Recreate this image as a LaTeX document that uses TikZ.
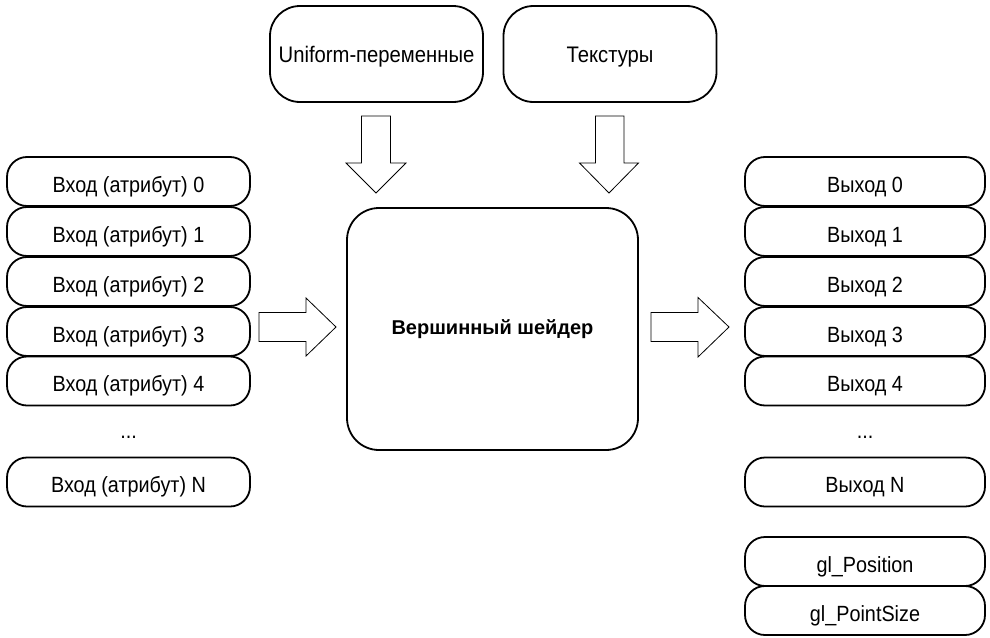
\documentclass[tikz,border=0pt]{standalone}
\usepackage{fontspec}
\setmainfont{Liberation Sans}
\newfontfamily\condfont[FakeStretch=0.9]{Liberation Sans}
\begin{document}
\begin{tikzpicture}[x=1pt,y=-1pt,
  box/.style={draw, line width=1.8pt, rounded corners=20pt, minimum width=243pt, minimum height=49pt, inner sep=0pt, text height=21pt, text depth=0pt, font=\condfont\fontsize{22}{24}\selectfont},
  rbox/.style={box, minimum width=240pt},
  topbox/.style={draw, line width=1.8pt, rounded corners=30pt, minimum width=213pt, minimum height=96pt, inner sep=0pt, text height=16pt, text depth=0pt, font=\condfont\fontsize{22.5}{24}\selectfont},
  shader/.style={draw, line width=1.8pt, rounded corners=32pt, minimum width=291pt, minimum height=242pt, inner sep=0pt, text height=10.4pt, text depth=0pt, font=\bfseries\fontsize{20}{22}\selectfont},
  barrow/.style={draw, line width=0.8pt, line join=miter, fill=white},
  dots/.style={font=\condfont\fontsize{22}{24}\selectfont, inner sep=0pt}
]
\useasboundingbox (0,0) rectangle (990,637);

% top boxes
\node[topbox] (uni) at (376.5,54) {Uniform-переменные};
\node[topbox] (tex) at (610,54) {Текстуры};

% shader
\node[shader] (sh) at (492.5,329) {Вершинный шейдер};

% left inputs
\node[box] (in0) at (128.5,181.5) {Вход (атрибут) 0};
\node[box] (in1) at (128.5,231.5) {Вход (атрибут) 1};
\node[box] (in2) at (128.5,281.5) {Вход (атрибут) 2};
\node[box] (in3) at (128.5,331.5) {Вход (атрибут) 3};
\node[box] (in4) at (128.5,381) {Вход (атрибут) 4};
\node[dots] (indots) at (128.5,437) {...};
\node[box] (inN) at (128.5,482) {Вход (атрибут) N};

% right outputs
\node[rbox] (out0) at (865,181.5) {Выход 0};
\node[rbox] (out1) at (865,231.5) {Выход 1};
\node[rbox] (out2) at (865,281.5) {Выход 2};
\node[rbox] (out3) at (865,331.5) {Выход 3};
\node[rbox] (out4) at (865,381) {Выход 4};
\node[dots] (outdots) at (865,437) {...};
\node[rbox] (outN) at (865,482) {Выход N};
\node[rbox] (glpos) at (865,561.5) {gl\_Position};
\node[rbox] (glps) at (865,610.5) {gl\_PointSize};

% block arrows
\draw[barrow] (361.5,116) -- (390.5,116) -- (390.5,163) -- (406,163) -- (376,193) -- (346,163) -- (361.5,163) -- cycle;
\draw[barrow] (595.5,116) -- (624,116) -- (624,163) -- (638.5,163) -- (609,193) -- (579.5,163) -- (595.5,163) -- cycle;
\draw[barrow] (259,312.5) -- (306,312.5) -- (306,298) -- (336,327) -- (306,356) -- (306,341.5) -- (259,341.5) -- cycle;
\draw[barrow] (651,312.5) -- (698,312.5) -- (698,297.5) -- (729,327) -- (698,357) -- (698,341.5) -- (651,341.5) -- cycle;
\end{tikzpicture}
\end{document}
